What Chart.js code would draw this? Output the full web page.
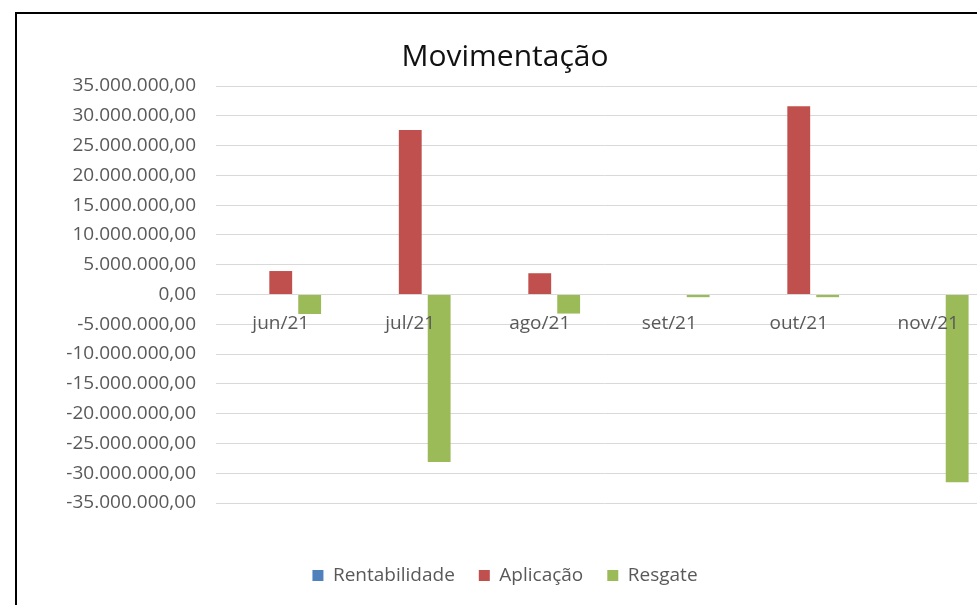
<!DOCTYPE html>
<html lang="pt-BR">
<head>
<meta charset="utf-8">
<title>Movimentação</title>
<script src="https://cdn.jsdelivr.net/npm/chart.js@4/dist/chart.umd.min.js"></script>
<style>
    html, body { margin: 0; padding: 0; background: #fff; overflow: hidden; }
    body { width: 977px; height: 605px; position: relative; }
    .frame {
        position: absolute; left: 15px; top: 12px; width: 1000px; height: 700px;
        border-left: 2px solid #000; border-top: 2px solid #000;
    }
    .wrap { position: absolute; left: 17px; top: 14px; width: 976px; height: 591px; }
</style>
</head>
<body>
<div class="frame"></div>
<div class="wrap"><canvas id="movChart"></canvas></div>
<script>
// valores
const meses = ['jun/21', 'jul/21', 'ago/21', 'set/21', 'out/21', 'nov/21'];
const rentabilidade = [0, 0, 0, 0, 0, 0];
const aplicacao = [3940000, 27600000, 3570000, 0, 31600000, 0];
const resgate = [-3270000, -28100000, -3200000, -450000, -450000, -31500000];

const cinza = '#595959';
const fonte = "'Open Sans', sans-serif";

// formato 35.000.000,00
function formatBR(v) {
    const neg = v < 0;
    const s = Math.abs(Math.round(v)).toString().replace(/\B(?=(\d{3})+(?!\d))/g, '.');
    return (neg ? '-' : '') + s + ',00';
}

const ctx = document.getElementById('movChart').getContext('2d');

new Chart(ctx, {
    type: 'bar',
    data: {
        labels: meses,
        datasets: [
            { label: 'Rentabilidade', data: rentabilidade, backgroundColor: '#4f81bd' },
            { label: 'Aplicação', data: aplicacao, backgroundColor: '#c0504d' },
            { label: 'Resgate', data: resgate, backgroundColor: '#9bbb59' }
        ]
    },
    options: {
        responsive: true,
        maintainAspectRatio: false,
        animation: false,
        datasets: {
            bar: { categoryPercentage: 0.67, barPercentage: 0.79 }
        },
        layout: { padding: { left: 0, right: 0, top: 0, bottom: 10 } },
        scales: {
            x: {
                position: { y: 0 },
                grid: { display: false, drawTicks: false },
                border: { display: true, color: '#d9d9d9', width: 1 },
                // rótulos por cima das barras, como no Excel
                ticks: { z: 1, color: cinza, font: { family: fonte, size: 19 }, padding: 18 }
            },
            // eixo vazio só para dar o espaço entre o gráfico e a legenda
            espaco: {
                type: 'category',
                position: 'bottom',
                afterFit: (scale) => { scale.height = 39; },
                grid: { display: false, drawTicks: false },
                border: { display: false },
                ticks: { display: false }
            },
            y: {
                min: -35000000,
                max: 35000000,
                afterFit: (scale) => { scale.width = 199; },
                grid: { color: '#d9d9d9', drawTicks: false },
                border: { display: false },
                ticks: {
                    stepSize: 5000000,
                    color: cinza,
                    padding: 20,
                    font: { family: fonte, size: 19 },
                    callback: (v) => formatBR(v)
                }
            }
        },
        plugins: {
            title: {
                display: true,
                text: 'Movimentação',
                color: '#111',
                font: { family: fonte, size: 30, weight: 'normal' },
                padding: { top: 25, bottom: 11 }
            },
            legend: {
                position: 'bottom',
                labels: {
                    color: cinza,
                    font: { family: fonte, size: 19 },
                    boxWidth: 11,
                    boxHeight: 11,
                    padding: 24
                }
            },
            tooltip: { enabled: false }
        }
    }
});
</script>
</body>
</html>
